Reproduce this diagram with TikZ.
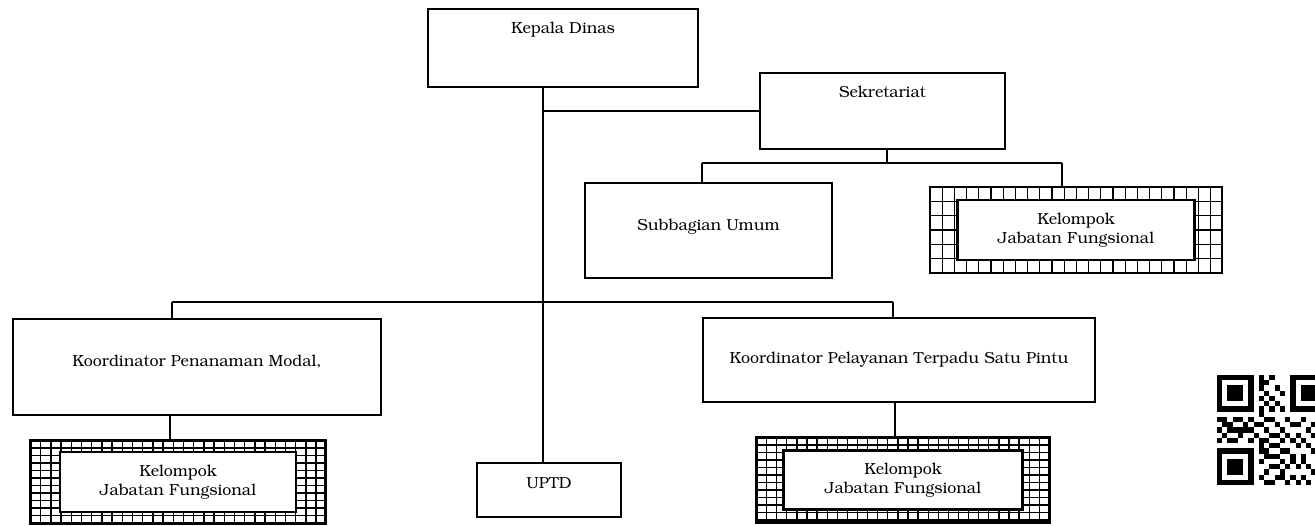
\documentclass[tikz,border=0pt]{standalone}
\usepackage[T1]{fontenc}
\usepackage{bookman}
\tikzset{
  box/.style={draw=black, line width=1.9pt, fill=white, rectangle, inner sep=0pt, outer sep=0pt, align=center, font=\fontsize{16}{19}\selectfont},
  txt/.style={inner sep=0pt, font=\fontsize{16}{19}\selectfont, align=center},
  conn/.style={draw=black, line width=2.8pt},
  hout/.style={draw=black, line width=2.2pt, rectangle, inner sep=0pt, outer sep=0pt},
  hgrid/.style={draw=black, line width=1.3pt},
  hin/.style={draw=black, line width=2.4pt, fill=white, rectangle, inner sep=0pt, outer sep=0pt, align=center, font=\fontsize{16}{19}\selectfont},
}
% #1 name, #2 cx, #3 cy, #4 w, #5 h, #6 inner w, #7 inner h, #8 text, #9 xstep/ystep
\newcommand\hatchbox[9]{%
  \node[hout, minimum width=#4, minimum height=#5] (#1) at (#2,#3) {};
  \begin{scope}
    \clip (#1.south west) rectangle (#1.north east);
    \foreach \hxs/\hys in {#9}{
      \foreach \k in {0,...,40}
        \draw[hgrid] ([xshift=\k*\hxs pt]#1.north west) -- ([xshift=\k*\hxs pt]#1.south west);
      \foreach \k in {0,...,20}
        \draw[hgrid] ([yshift=-\k*\hys pt]#1.north west) -- ([yshift=-\k*\hys pt]#1.north east);
    }
  \end{scope}
  \node[hout, minimum width=#4, minimum height=#5] at (#2,#3) {};
  \node[hin, minimum width=#6, minimum height=#7] (#1i) at (#2,#3) {#8};
}
\begin{document}
\begin{tikzpicture}[x=1pt,y=-1pt]
\useasboundingbox[fill=white] (0,0) rectangle (1315,525);
\begin{scope}
\clip (0,0) rectangle (1315,525);
% boxes
\node[box, minimum width=270, minimum height=78] (kd) at (563,48) {};
\node[txt] (kdt) at (563,30) {Kepala Dinas};
\node[box, minimum width=245, minimum height=76] (sek) at (882.5,111) {};
\node[txt] (sekt) at (882.5,92) {Sekretariat};
\node[box, minimum width=247, minimum height=95] (sub) at (708.5,230.5) {};
\node[txt] (subt) at (708.5,227) {Subbagian Umum};
\hatchbox{tr}{1076}{230}{292}{86}{237}{60}{Kelompok\\Jabatan Fungsional}{12.2/14.33}
\node[box, minimum width=368, minimum height=96] (kpm) at (197,367) {};
\node[txt] (kpmt) at (197,362) {Koordinator Penanaman Modal,};
\node[box, minimum width=392, minimum height=84] (kpt) at (899,360) {Koordinator Pelayanan Terpadu Satu Pintu};
\hatchbox{lb}{178}{482}{295}{83}{236}{60}{Kelompok\\Jabatan Fungsional}{10.2/7.5}
\hatchbox{rb}{903}{480}{293}{85}{239}{59}{Kelompok\\Jabatan Fungsional}{10.1/7.5}
\node[box, minimum width=144, minimum height=54] (uptd) at (549,490) {};
\node[txt] (uptdt) at (549,483) {UPTD};
% junction coordinates
\coordinate (tx) at (543,0);
\coordinate (js) at (543,111);
\coordinate (sx) at (887,0);
\coordinate (h1l) at (702,163);
\coordinate (h1r) at (1062,163);
\coordinate (h1m) at (887,163);
\coordinate (h2l) at (172,302);
\coordinate (h2r) at (893,302);
\coordinate (kx) at (170,0);
\coordinate (px) at (895,0);
% connectors
\draw[conn] (kd.south -| tx) -- (uptd.north -| tx);
\draw[conn] (js) -- (sek.west);
\draw[conn] (sek.south -| sx) -- (h1m);
\draw[conn] (h1l) -- (h1r);
\draw[conn] (h1l) -- (sub.north -| h1l);
\draw[conn] (h1r) -- (tr.north -| h1r);
\draw[conn] (h2l) -- (h2r);
\draw[conn] (h2l) -- (kpm.north -| h2l);
\draw[conn] (h2r) -- (kpt.north -| h2r);
\draw[conn] (kpm.south -| kx) -- (lb.north -| kx);
\draw[conn] (kpt.south -| px) -- (rb.north -| px);
% QR code
\def\qm{5.24}
\begin{scope}[shift={(1217,375)}]
  \foreach \c/\r in {0/0,14/0,0/14}{
    \fill[black] (\c*\qm,\r*\qm) rectangle ++(7*\qm,7*\qm);
    \fill[white] (\c*\qm+\qm,\r*\qm+\qm) rectangle ++(5*\qm,5*\qm);
    \fill[black] (\c*\qm+2*\qm,\r*\qm+2*\qm) rectangle ++(3*\qm,3*\qm);
  }
  \foreach \c/\r in {8/0,8/1,9/1,8/2,10/0,11/2,9/3,12/3,8/4,10/4,11/5,9/5,
    8/6,10/6,12/6,6/8,6/10,6/12,
    0/8,1/8,3/8,4/8,1/9,2/9,5/9,0/10,2/10,3/10,4/10,5/10,1/11,4/11,0/12,2/12,3/12,7/9,7/11,
    8/7,9/8,10/8,11/9,8/9,9/10,12/10,13/8,14/9,15/9,16/8,18/9,19/8,20/10,10/11,11/11,13/11,
    15/11,17/10,18/11,8/12,9/12,12/12,14/12,16/12,19/12,10/13,11/13,13/14,15/13,17/13,20/13,
    8/13,8/14,9/15,11/15,12/16,14/15,16/15,18/14,19/16,8/16,10/17,13/17,15/17,17/17,20/17,
    9/18,11/19,12/18,14/19,16/19,18/18,19/20,8/19,10/20,13/20,15/20,17/20,20/19,20/15,16/16,
    9/14,12/14,10/15,14/16,11/17,12/19,9/20}{
    \fill[black] (\c*\qm,\r*\qm) rectangle ++(\qm,\qm);
  }
\end{scope}
\end{scope}
\end{tikzpicture}
\end{document}
